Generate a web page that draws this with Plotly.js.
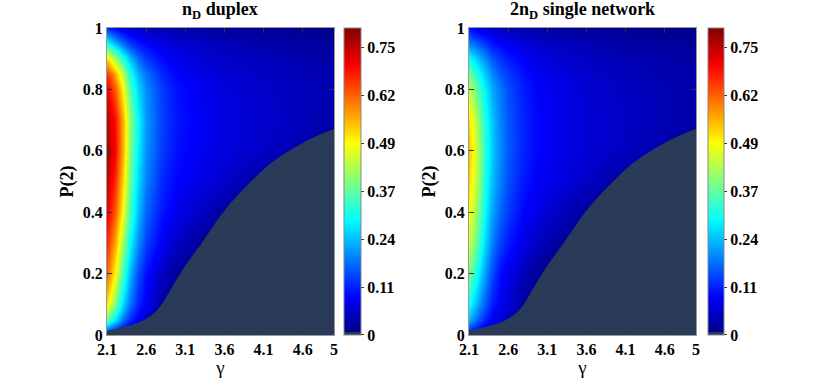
<!DOCTYPE html>
<html>
<head>
<meta charset="utf-8">
<script src="https://cdn.plot.ly/plotly-3.0.1.min.js"></script>
<style>
  html, body { margin: 0; padding: 0; background: #fff; }
  #plot { width: 822px; height: 378px; }
</style>
</head>
<body>
<div id="plot"></div>
<script>
// grid: gamma (columns) and P(2) (rows)
var gammaGrid = [2.1, 2.2, 2.3, 2.4, 2.5, 2.6, 2.8, 3.0, 3.3, 3.6, 4.0, 4.5, 5.0];
var pGrid = [0, 0.02, 0.05, 0.1, 0.2, 0.3, 0.4, 0.5, 0.6, 0.7, 0.8, 0.85, 0.9, 0.95, 1.0];

// n_D duplex (one row per P value, bottom to top)
var zDuplex = [
  [0.015, 0.015, 0.015, 0.015, 0.015, 0.015, 0.015, 0.015, 0.015, 0.015, 0.015, 0.015, 0.015],
  [0.20, 0.15, 0.10, 0.06, 0.03, 0.015, 0.015, 0.015, 0.015, 0.015, 0.015, 0.015, 0.015],
  [0.38, 0.28, 0.19, 0.13, 0.09, 0.05, 0.015, 0.015, 0.015, 0.015, 0.015, 0.015, 0.015],
  [0.52, 0.40, 0.27, 0.19, 0.13, 0.09, 0.03, 0.015, 0.015, 0.015, 0.015, 0.015, 0.015],
  [0.62, 0.50, 0.35, 0.24, 0.16, 0.11, 0.055, 0.02, 0.015, 0.015, 0.015, 0.015, 0.015],
  [0.67, 0.57, 0.42, 0.30, 0.21, 0.15, 0.09, 0.055, 0.02, 0.015, 0.015, 0.015, 0.015],
  [0.71, 0.63, 0.49, 0.35, 0.25, 0.18, 0.115, 0.085, 0.055, 0.025, 0.015, 0.015, 0.015],
  [0.74, 0.67, 0.53, 0.38, 0.27, 0.20, 0.13, 0.10, 0.08, 0.062, 0.03, 0.015, 0.015],
  [0.77, 0.70, 0.56, 0.40, 0.29, 0.215, 0.145, 0.11, 0.09, 0.075, 0.062, 0.04, 0.015],
  [0.75, 0.69, 0.56, 0.41, 0.30, 0.22, 0.15, 0.115, 0.092, 0.078, 0.065, 0.052, 0.035],
  [0.71, 0.63, 0.50, 0.36, 0.27, 0.21, 0.145, 0.11, 0.088, 0.074, 0.062, 0.05, 0.04],
  [0.66, 0.57, 0.44, 0.32, 0.24, 0.19, 0.13, 0.10, 0.08, 0.068, 0.057, 0.046, 0.038],
  [0.53, 0.43, 0.33, 0.25, 0.185, 0.145, 0.105, 0.085, 0.07, 0.06, 0.05, 0.04, 0.033],
  [0.31, 0.24, 0.18, 0.14, 0.115, 0.10, 0.08, 0.065, 0.055, 0.045, 0.04, 0.03, 0.025],
  [0.13, 0.10, 0.08, 0.065, 0.055, 0.05, 0.04, 0.035, 0.03, 0.025, 0.02, 0.018, 0.015]
];

// 2n_D single network
var zSingle = [
  [0.015, 0.015, 0.015, 0.015, 0.015, 0.015, 0.015, 0.015, 0.015, 0.015, 0.015, 0.015, 0.015],
  [0.15, 0.11, 0.075, 0.045, 0.025, 0.015, 0.015, 0.015, 0.015, 0.015, 0.015, 0.015, 0.015],
  [0.24, 0.18, 0.125, 0.09, 0.065, 0.04, 0.015, 0.015, 0.015, 0.015, 0.015, 0.015, 0.015],
  [0.31, 0.24, 0.17, 0.125, 0.09, 0.07, 0.025, 0.015, 0.015, 0.015, 0.015, 0.015, 0.015],
  [0.39, 0.31, 0.22, 0.16, 0.105, 0.085, 0.045, 0.018, 0.015, 0.015, 0.015, 0.015, 0.015],
  [0.46, 0.37, 0.27, 0.20, 0.15, 0.12, 0.08, 0.05, 0.02, 0.015, 0.015, 0.015, 0.015],
  [0.50, 0.41, 0.30, 0.23, 0.18, 0.145, 0.10, 0.078, 0.05, 0.022, 0.015, 0.015, 0.015],
  [0.53, 0.44, 0.32, 0.25, 0.20, 0.16, 0.115, 0.092, 0.074, 0.058, 0.028, 0.015, 0.015],
  [0.55, 0.45, 0.33, 0.26, 0.21, 0.17, 0.125, 0.10, 0.082, 0.069, 0.057, 0.037, 0.015],
  [0.52, 0.43, 0.32, 0.255, 0.205, 0.168, 0.125, 0.10, 0.082, 0.07, 0.058, 0.047, 0.032],
  [0.45, 0.37, 0.29, 0.235, 0.195, 0.16, 0.12, 0.097, 0.08, 0.067, 0.056, 0.045, 0.037],
  [0.39, 0.32, 0.26, 0.21, 0.17, 0.145, 0.11, 0.09, 0.073, 0.062, 0.052, 0.042, 0.035],
  [0.31, 0.26, 0.21, 0.17, 0.14, 0.12, 0.095, 0.078, 0.064, 0.055, 0.046, 0.037, 0.03],
  [0.20, 0.17, 0.14, 0.115, 0.10, 0.088, 0.072, 0.06, 0.05, 0.042, 0.036, 0.028, 0.023],
  [0.11, 0.085, 0.07, 0.058, 0.05, 0.045, 0.037, 0.032, 0.027, 0.023, 0.019, 0.016, 0.014]
];

// edge of the zero region (same in both panels)
var gammaEdge = [2.1, 2.3, 2.5, 2.65, 2.78, 2.9, 3.1, 3.3, 3.5, 3.7, 3.93, 4.15, 4.35, 4.6, 4.8, 5.0];
var pEdge = [0.012, 0.025, 0.04, 0.06, 0.092, 0.142, 0.225, 0.295, 0.37, 0.435, 0.497, 0.55, 0.587, 0.625, 0.65, 0.67];

var xTicks = [2.1, 2.6, 3.1, 3.6, 4.1, 4.6, 5];
var yTicks = [0, 0.2, 0.4, 0.6, 0.8, 1];
var cbTickVals = [0, 0.125, 0.25, 0.375, 0.5, 0.625, 0.75];
var cbTickText = ['0', '0.11', '0.24', '0.37', '0.49', '0.62', '0.75'];

var zeroColor = '#293b58';
var serif = 'Liberation Serif, Times New Roman, serif';

// jet, with the lowest sliver in the slate colour of the zero region
var jet = [
  [0, zeroColor], [0.01, zeroColor],
  [0.01, 'rgb(0,0,134)'],
  [0.125, 'rgb(0,0,255)'],
  [0.375, 'rgb(0,255,255)'],
  [0.625, 'rgb(255,255,0)'],
  [0.875, 'rgb(255,0,0)'],
  [1, 'rgb(128,0,0)']
];

function cbar(x, thick) {
  return {
    x: x, xanchor: 'left', xpad: 0, ypad: 0,
    y: 0.1138, yanchor: 'bottom', len: 0.8122, lenmode: 'fraction',
    thickness: thick, outlinewidth: 1, outlinecolor: '#888',
    ticks: 'outside', ticklen: 3, tickcolor: '#333',
    tickvals: cbTickVals, ticktext: cbTickText,
    tickfont: {family: serif, size: 16, color: '#000', weight: 'bold'}
  };
}

var hmDuplex = {
  type: 'heatmap', x: gammaGrid, y: pGrid, z: zDuplex,
  zmin: 0, zmax: 0.8, zsmooth: 'best', colorscale: jet,
  colorbar: cbar(0.4185, 17), xaxis: 'x', yaxis: 'y', hoverinfo: 'skip'
};
var hmSingle = {
  type: 'heatmap', x: gammaGrid, y: pGrid, z: zSingle,
  zmin: 0, zmax: 0.8, zsmooth: 'best', colorscale: jet,
  colorbar: cbar(0.8613, 16), xaxis: 'x2', yaxis: 'y2', hoverinfo: 'skip'
};
var zeroDuplex = {
  type: 'scatter', mode: 'lines', x: gammaEdge, y: pEdge, fill: 'tozeroy',
  fillcolor: zeroColor, line: {color: zeroColor, width: 0.5, shape: 'spline'},
  xaxis: 'x', yaxis: 'y', showlegend: false, hoverinfo: 'skip'
};
var zeroSingle = Object.assign({}, zeroDuplex, {xaxis: 'x2', yaxis: 'y2'});

function xax(domain, anchor) {
  return {
    domain: domain, anchor: anchor, range: [2.1, 5],
    tickvals: xTicks, ticktext: xTicks.map(String),
    ticks: 'inside', ticklen: 5, tickcolor: '#333', mirror: 'ticks',
    showline: true, linecolor: '#999', linewidth: 1,
    showgrid: false, zeroline: false,
    tickfont: {family: serif, size: 16, color: '#000', weight: 'bold'},
    title: {text: 'γ', standoff: 3, font: {family: serif, size: 19, color: '#000'}}
  };
}
function yax(anchor) {
  return {
    domain: [0.1138, 0.9259], anchor: anchor, range: [0, 1],
    tickvals: yTicks, ticktext: yTicks.map(String),
    ticks: 'inside', ticklen: 5, tickcolor: '#333', mirror: 'ticks',
    showline: true, linecolor: '#999', linewidth: 1,
    showgrid: false, zeroline: false,
    tickfont: {family: serif, size: 16, color: '#000', weight: 'bold'},
    title: {text: 'P(2)', standoff: 4, font: {family: serif, size: 18, color: '#000', weight: 'bold'}}
  };
}

var layout = {
  width: 822, height: 378,
  margin: {l: 0, r: 0, t: 0, b: 0},
  paper_bgcolor: '#fff', plot_bgcolor: '#fff',
  showlegend: false,
  xaxis: xax([0.1302, 0.4063], 'y'),
  yaxis: yax('x'),
  xaxis2: xax([0.5706, 0.8467], 'y2'),
  yaxis2: yax('x2'),
  annotations: [
    {text: 'n<sub>D</sub> duplex', xref: 'paper', yref: 'paper', x: 0.2682, y: 0.972,
     xanchor: 'center', yanchor: 'middle', showarrow: false,
     font: {family: serif, size: 18, color: '#000', weight: 'bold'}},
    {text: '2n<sub>D</sub> single network', xref: 'paper', yref: 'paper', x: 0.7086, y: 0.972,
     xanchor: 'center', yanchor: 'middle', showarrow: false,
     font: {family: serif, size: 18, color: '#000', weight: 'bold'}}
  ]
};

Plotly.newPlot('plot', [hmDuplex, zeroDuplex, hmSingle, zeroSingle], layout, {staticPlot: true});
</script>
</body>
</html>
